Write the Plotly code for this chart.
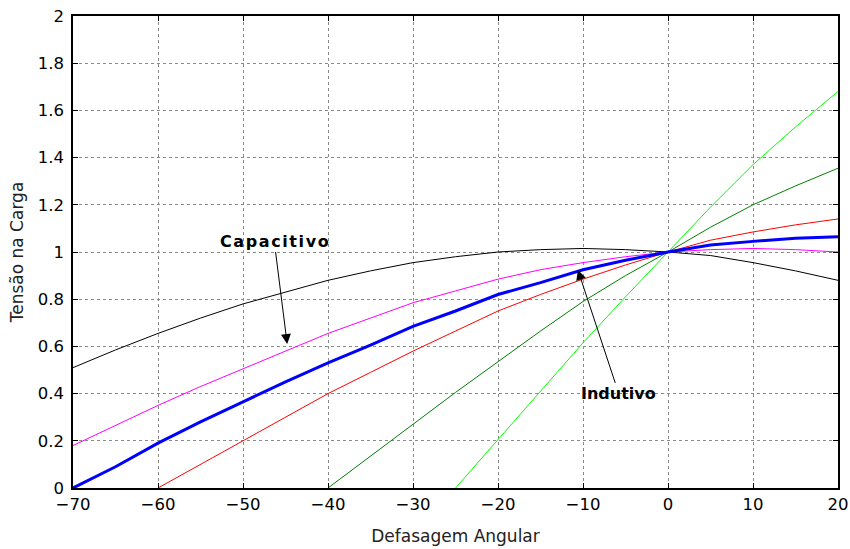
import plotly.graph_objects as go

x_full = [-70, -65, -60, -55, -50, -45, -40, -35, -30, -25, -20, -15, -10, -5, 0, 5, 10, 15, 20]
black = [0.51, 0.585, 0.655, 0.72, 0.78, 0.83, 0.88, 0.92, 0.955, 0.98, 1.0, 1.01, 1.015, 1.01, 1.0, 0.985, 0.955, 0.92, 0.88]
magenta = [0.18, 0.265, 0.35, 0.43, 0.505, 0.58, 0.655, 0.72, 0.785, 0.835, 0.885, 0.925, 0.955, 0.98, 1.0, 1.01, 1.015, 1.01, 1.0]
blue = [0.0, 0.09, 0.19, 0.28, 0.365, 0.45, 0.53, 0.605, 0.685, 0.75, 0.82, 0.87, 0.925, 0.965, 1.0, 1.03, 1.045, 1.058, 1.065]

x_red = [-60, -55, -50, -45, -40, -35, -30, -25, -20, -15, -10, -5, 0, 5, 10, 15, 20]
red = [0.0, 0.1, 0.2, 0.3, 0.4, 0.49, 0.58, 0.665, 0.75, 0.82, 0.885, 0.945, 1.0, 1.05, 1.085, 1.115, 1.14]

x_dgreen = [-40, -35, -30, -25, -20, -15, -10, -5, 0, 5, 10, 15, 20]
dgreen = [0.0, 0.135, 0.27, 0.405, 0.535, 0.665, 0.79, 0.9, 1.0, 1.105, 1.2, 1.28, 1.355]

x_lgreen = [-25, -20, -15, -10, -5, 0, 5, 10, 15, 20]
lgreen = [0.0, 0.205, 0.41, 0.615, 0.81, 1.0, 1.19, 1.37, 1.53, 1.68]

x_ticks = [-70, -60, -50, -40, -30, -20, -10, 0, 10, 20]
y_ticks = [0, 0.2, 0.4, 0.6, 0.8, 1, 1.2, 1.4, 1.6, 1.8, 2]

fig = go.Figure()
series = [
    (x_full, black, "#000000", 1),
    (x_full, magenta, "#ff00ff", 1),
    (x_red, red, "#ff0000", 1),
    (x_dgreen, dgreen, "#008000", 1),
    (x_lgreen, lgreen, "#00ff00", 1),
    (x_full, blue, "#0000ff", 3),
]
for xs, ys, c, w in series:
    fig.add_trace(go.Scatter(x=xs, y=ys, mode="lines", line=dict(color=c, width=w),
                             showlegend=False, hoverinfo="skip"))

font_family = "DejaVu Sans, sans-serif"
axis_common = dict(
    showline=True, linecolor="black", linewidth=1.5, mirror="ticks",
    ticks="inside", ticklen=5, tickcolor="black", automargin=False,
    ticklabeloverflow="allow",
    showgrid=True, gridcolor="#8a8a8a", griddash="dot", gridwidth=1,
    zeroline=False, tickfont=dict(family=font_family, size=16.5, color="black"),
)
fig.update_xaxes(range=[-70, 20], tickvals=x_ticks,
                 title=dict(text="Defasagem Angular", font=dict(family=font_family, size=17, color="#222"), standoff=18),
                 **axis_common)
fig.update_yaxes(range=[0, 2], tickvals=y_ticks, ticklabelstandoff=4,
                 title=dict(text="Tensão na Carga", font=dict(family=font_family, size=17, color="#222"), standoff=10),
                 **axis_common)

fig.add_annotation(x=-44.8, y=0.61, text="<b>C\u200aa\u200ap\u200aa\u200ac\u200ai\u200at\u200ai\u200av\u200ao</b>", showarrow=True,
                   ax=-13, ay=-103, arrowhead=2, arrowsize=2, arrowwidth=1, arrowcolor="black",
                   font=dict(family=font_family, size=16, color="black"))
fig.add_annotation(x=-10.6, y=0.924, text="<b>Indutivo</b>", showarrow=True,
                   ax=41, ay=124, arrowhead=2, arrowsize=2, arrowwidth=1, arrowcolor="black",
                   font=dict(family=font_family, size=16, color="black"))

fig.update_layout(width=850, height=549, margin=dict(l=73, r=12, t=16, b=61),
                  plot_bgcolor="white", paper_bgcolor="white")
fig.write_html("out.html", config={"displayModeBar": False},
               post_script="document.body.style.margin='0';document.body.style.overflow='hidden';")
